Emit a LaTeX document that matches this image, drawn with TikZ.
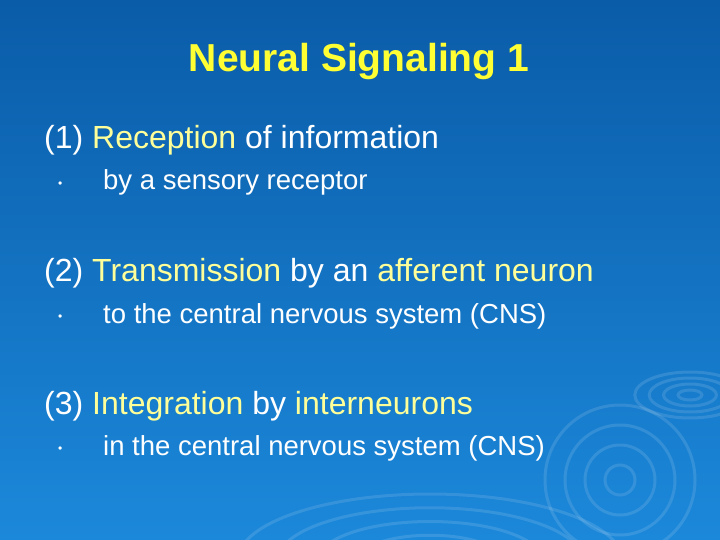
\documentclass[tikz,border=0pt]{standalone}
\usepackage{fontspec}
\setmainfont{Liberation Sans}
\definecolor{bgtop}{HTML}{0A5CA8}
\definecolor{bgbot}{HTML}{1C88DA}
\definecolor{ttl}{HTML}{FFFF33}
\definecolor{kw}{HTML}{FFFF99}
\begin{document}
\begin{tikzpicture}[x=1pt,y=-1pt,
  lone/.style={anchor=base west,text=white,font=\fontsize{32}{34}\selectfont,inner sep=0},
  ltwo/.style={anchor=base west,text=white,font=\fontsize{27.5}{30}\selectfont,inner sep=0},
  bul/.style={anchor=base west,text=white,font=\fontsize{12}{14}\selectfont,inner sep=0}]
\shade[top color=bgtop,bottom color=bgbot] (0,0) rectangle (720,540);
\useasboundingbox (0,0) rectangle (720,540);
\begin{scope}[white,opacity=0.12,line width=3pt]
\foreach \r in {20,45,70,95,120} \draw (430,560) ellipse ({\r*1.6} and {\r*0.55});
\foreach \r in {10,22,34,46} \draw (690,395) ellipse ({\r*1.2} and {\r*0.5});
\foreach \r in {15,35,55,75} \draw (620,480) circle (\r);
\end{scope}
\node[anchor=base,text=ttl,font=\bfseries\fontsize{39}{42}\selectfont] (t) at (359,72) {Neural Signaling 1};
\node[lone] (a) at (44,149) {(1) \textcolor{kw}{Reception} of information};
\node[bul] (ab) at (58,188) {•};
\node[ltwo] (a2) at (103,190) {by a sensory receptor};
\node[lone] (b) at (44,281) {(2) \textcolor{kw}{Transmission} by an \textcolor{kw}{afferent neuron}};
\node[bul] (bb) at (58,320) {•};
\node[ltwo] (b2) at (103,323) {to the central nervous system (CNS)};
\node[lone] (c) at (44,414) {(3) \textcolor{kw}{Integration} by \textcolor{kw}{interneurons}};
\node[bul] (cb) at (58,452) {•};
\node[ltwo] (c2) at (103,455) {in the central nervous system (CNS)};
\end{tikzpicture}
\end{document}
